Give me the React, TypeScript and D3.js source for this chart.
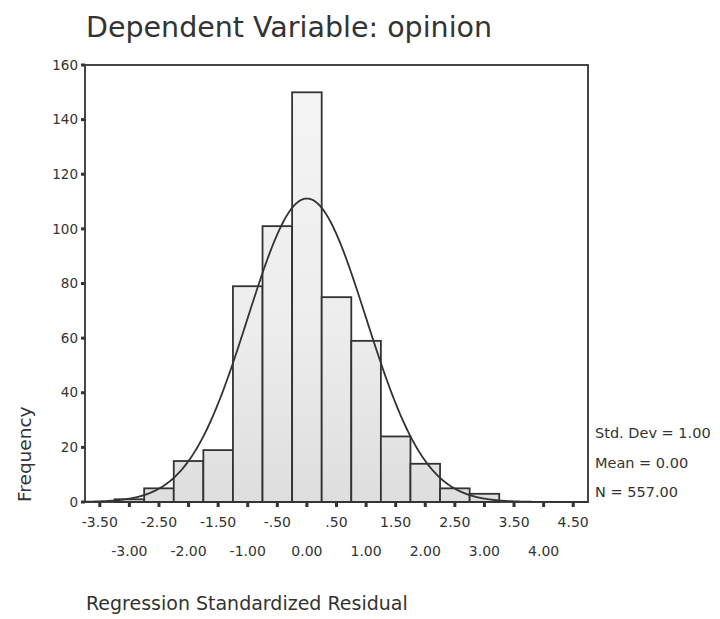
import React from "react";
import * as d3 from "d3";

const binCenters = [-3.5, -3.0, -2.5, -2.0, -1.5, -1.0, -0.5, 0.0, 0.5, 1.0, 1.5, 2.0, 2.5, 3.0, 3.5, 4.0, 4.5];
const binCounts = [0, 1, 5, 15, 19, 79, 101, 150, 75, 59, 24, 14, 5, 3, 0, 0, 0];
const binWidth = 0.5;

const upperTickValues = [-3.5, -2.5, -1.5, -0.5, 0.5, 1.5, 2.5, 3.5, 4.5];
const upperTickLabels = ["-3.50", "-2.50", "-1.50", "-.50", ".50", "1.50", "2.50", "3.50", "4.50"];
const lowerTickValues = [-3.0, -2.0, -1.0, 0.0, 1.0, 2.0, 3.0, 4.0];
const lowerTickLabels = ["-3.00", "-2.00", "-1.00", "0.00", "1.00", "2.00", "3.00", "4.00"];
const yTickValues = [0, 20, 40, 60, 80, 100, 120, 140, 160];

const statStdDev = 1.0;
const statMean = 0.0;
const statN = 557;
const statLines = ["Std. Dev = 1.00", "Mean = 0.00", "N = 557.00"];

const titleText = "Dependent Variable: opinion";
const xTitle = "Regression Standardized Residual";
const yTitle = "Frequency";

const FONT = "'DejaVu Sans', Verdana, sans-serif";
const INK = "#333";

export default function App() {
  const W = 720, H = 619;
  const left = 85, right = 588, top = 65, bottom = 502;
  const x = d3.scaleLinear().domain([-3.75, 4.75]).range([left, right]);
  const y = d3.scaleLinear().domain([0, 160]).range([bottom, top]);

  const allTicks = [...upperTickValues, ...lowerTickValues].sort((a, b) => a - b);

  const curveXs = d3.range(-3.75, 4.7501, 0.02);
  const dens = (v: number) =>
    (statN * binWidth) / (statStdDev * Math.sqrt(2 * Math.PI)) *
    Math.exp(-0.5 * ((v - statMean) / statStdDev) ** 2);
  const line = d3.line<number>().x((v) => x(v)).y((v) => y(dens(v))).curve(d3.curveLinear);

  return (
    <svg width={W} height={H} style={{ position: "absolute", left: 0, top: 0, background: "#fff" }}>
      <defs>
        <linearGradient id="barFill" x1="0" y1={top} x2="0" y2={bottom} gradientUnits="userSpaceOnUse">
          <stop offset="0" stopColor="#f5f5f5" />
          <stop offset="0.6" stopColor="#ededed" />
          <stop offset="1" stopColor="#dedede" />
        </linearGradient>
      </defs>

      <text x={86} y={37} fontFamily={FONT} fontSize={28.5} fill={INK}>{titleText}</text>

      {/* bars */}
      {binCenters.map((c, i) => (
        <rect key={i}
          x={x(c - binWidth / 2)} y={y(binCounts[i])}
          width={x(c + binWidth / 2) - x(c - binWidth / 2)}
          height={y(0) - y(binCounts[i])}
          fill="url(#barFill)" stroke={INK} strokeWidth={1.8} />
      ))}

      {/* normal curve */}
      <path d={line(curveXs) || ""} fill="none" stroke={INK} strokeWidth={1.8} />

      {/* frame */}
      <rect x={left} y={top} width={right - left} height={bottom - top} fill="none" stroke={INK} strokeWidth={1.8} />

      {/* y ticks */}
      {yTickValues.map((v) => (
        <g key={v}>
          <rect x={left - 4} y={y(v) - 1.5} width={4} height={3} fill={INK} />
          <text x={78} y={y(v)} dy="0.35em" textAnchor="end" fontFamily={FONT} fontSize={13.5} fill={INK}>{v}</text>
        </g>
      ))}

      {/* x ticks */}
      {allTicks.map((v) => (
        <rect key={v} x={x(v) - 1.5} y={bottom} width={3} height={5} fill={INK} />
      ))}
      {upperTickValues.map((v, i) => (
        <text key={"u" + v} x={x(v)} y={527} textAnchor="middle" fontFamily={FONT} fontSize={14} fill={INK}>{upperTickLabels[i]}</text>
      ))}
      {lowerTickValues.map((v, i) => (
        <text key={"l" + v} x={x(v)} y={556} textAnchor="middle" fontFamily={FONT} fontSize={14} fill={INK}>{lowerTickLabels[i]}</text>
      ))}

      {/* stats */}
      {statLines.map((s, i) => (
        <text key={s} x={595} y={438 + i * 29.5} fontFamily={FONT} fontSize={14.5} fill={INK}>{s}</text>
      ))}

      <text transform={`translate(31,502) rotate(-90)`} fontFamily={FONT} fontSize={18.5} fill={INK}>{yTitle}</text>
      <text x={86} y={610} fontFamily={FONT} fontSize={19} fill={INK}>{xTitle}</text>
    </svg>
  );
}
